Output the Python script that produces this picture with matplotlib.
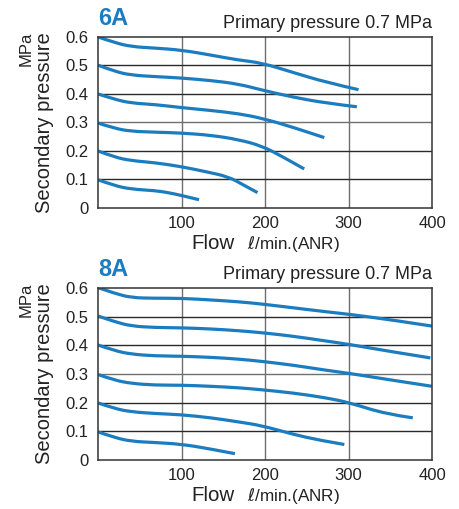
import matplotlib
matplotlib.use('Agg')
import matplotlib.pyplot as plt
from matplotlib.path import Path
from matplotlib.patches import PathPatch

plt.rcParams['font.family'] = ['Liberation Sans', 'DejaVu Sans']

BLUE = '#1b7cc0'
TXT = '#222222'

# 6A curves: flow (l/min) and secondary pressure (MPa)
flow_6a = [
    [0, 20, 40, 68, 100, 136, 168, 196, 233, 273, 312],
    [0, 20, 40, 68, 100, 136, 168, 196, 233, 273, 310],
    [0, 20, 40, 68, 100, 136, 168, 196, 233, 271],
    [0, 20, 40, 68, 100, 136, 168, 196, 221, 247],
    [0, 20, 40, 68, 100, 128, 156, 174, 191],
    [0, 20, 40, 68, 84, 100, 121],
]
pres_6a = [
    [0.600, 0.580, 0.566, 0.561, 0.554, 0.536, 0.519, 0.509, 0.476, 0.441, 0.415],
    [0.501, 0.479, 0.466, 0.461, 0.456, 0.447, 0.435, 0.414, 0.389, 0.368, 0.355],
    [0.400, 0.381, 0.368, 0.363, 0.352, 0.342, 0.331, 0.315, 0.284, 0.247],
    [0.298, 0.279, 0.269, 0.266, 0.263, 0.255, 0.240, 0.218, 0.180, 0.137],
    [0.200, 0.178, 0.166, 0.159, 0.145, 0.128, 0.110, 0.081, 0.054],
    [0.099, 0.078, 0.066, 0.061, 0.054, 0.044, 0.029],
]

# 8A curves
flow_8a = [
    [0, 20, 40, 68, 100, 136, 168, 196, 233, 273, 301, 353, 400],
    [0, 20, 40, 68, 100, 136, 168, 196, 233, 273, 301, 353, 398],
    [0, 20, 40, 68, 100, 136, 168, 196, 233, 273, 301, 353, 400],
    [0, 20, 40, 68, 100, 136, 168, 196, 233, 273, 301, 345, 377],
    [0, 20, 40, 68, 100, 136, 168, 196, 233, 265, 295],
    [0, 20, 40, 68, 100, 132, 164],
]
pres_8a = [
    [0.601, 0.581, 0.566, 0.564, 0.564, 0.558, 0.552, 0.544, 0.531, 0.517, 0.508, 0.488, 0.467],
    [0.502, 0.482, 0.467, 0.462, 0.461, 0.457, 0.451, 0.444, 0.432, 0.415, 0.403, 0.377, 0.356],
    [0.401, 0.381, 0.369, 0.363, 0.362, 0.358, 0.352, 0.344, 0.331, 0.313, 0.302, 0.278, 0.257],
    [0.298, 0.278, 0.267, 0.261, 0.261, 0.257, 0.252, 0.245, 0.234, 0.217, 0.200, 0.160, 0.147],
    [0.199, 0.179, 0.168, 0.162, 0.158, 0.147, 0.133, 0.120, 0.090, 0.069, 0.054],
    [0.098, 0.078, 0.065, 0.061, 0.055, 0.040, 0.022],
]

xticks = [100, 200, 300, 400]
yticks = [0, 0.1, 0.2, 0.3, 0.4, 0.5, 0.6]
ytick_labels = ['0', '0.1', '0.2', '0.3', '0.4', '0.5', '0.6']


def smooth_line(ax, xs, ys):
    # quadratic bezier through midpoints, read points as control points
    pts = list(zip(xs, ys))
    verts = [pts[0]]
    codes = [Path.MOVETO]
    for i in range(1, len(pts) - 1):
        mid = ((pts[i][0] + pts[i + 1][0]) / 2, (pts[i][1] + pts[i + 1][1]) / 2)
        if i == len(pts) - 2:
            mid = pts[-1]
        verts += [pts[i], mid]
        codes += [Path.CURVE3, Path.CURVE3]
    ax.add_patch(PathPatch(Path(verts, codes), fill=False, edgecolor=BLUE,
                           lw=2.3, capstyle='butt', joinstyle='round'))


def draw_panel(fig, rect, name, flows, pressures):
    ax = fig.add_axes(rect)
    for fx, py in zip(flows, pressures):
        smooth_line(ax, fx, py)
    ax.set_xlim(0, 400)
    ax.set_ylim(0, 0.6)
    ax.set_xticks(xticks)
    ax.set_yticks(yticks)
    ax.set_yticklabels(ytick_labels)
    ax.tick_params(length=0, labelsize=12, colors=TXT)
    ax.tick_params(axis='y', pad=7)
    ax.tick_params(axis='x', pad=6)
    for x in xticks[:-1]:
        ax.axvline(x, color='#6e6e6e', lw=1.0, zorder=0)
    for y in yticks[1:-1]:
        ax.axhline(y, color='#707070' if y == 0.3 else '#2a2a2a', lw=1.0, zorder=0)
    for s in ax.spines.values():
        s.set_color('#333333')
        s.set_linewidth(1.1)
    ax.text(0, 1.07, name, transform=ax.transAxes, color=BLUE,
            fontsize=17, fontweight='bold', ha='left', va='baseline')
    ax.text(1, 1.053, 'Primary pressure 0.7 MPa', transform=ax.transAxes,
            fontsize=13, ha='right', va='baseline', color=TXT)
    ax.text(-0.16, 0.5, 'Secondary pressure', transform=ax.transAxes,
            rotation=90, fontsize=14.5, ha='center', va='center', color=TXT)
    ax.text(-0.215, 1.03, 'MPa', transform=ax.transAxes, rotation=90,
            fontsize=12, ha='center', va='top', color=TXT)
    ax.text(0.41, -0.205, 'Flow', transform=ax.transAxes, fontsize=14.8,
            ha='right', va='center', color=TXT)
    ax.text(0.445, -0.21, r'$\ell$/min.(ANR)', transform=ax.transAxes,
            fontsize=12.3, ha='left', va='center', color=TXT)
    return ax


fig = plt.figure(figsize=(4.59, 5.09), dpi=100)
draw_panel(fig, [0.2135, 0.5914, 0.7277, 0.336], '6A', flow_6a, pres_6a)
draw_panel(fig, [0.2135, 0.0963, 0.7277, 0.338], '8A', flow_8a, pres_8a)
fig.savefig('out.png', dpi=100)
